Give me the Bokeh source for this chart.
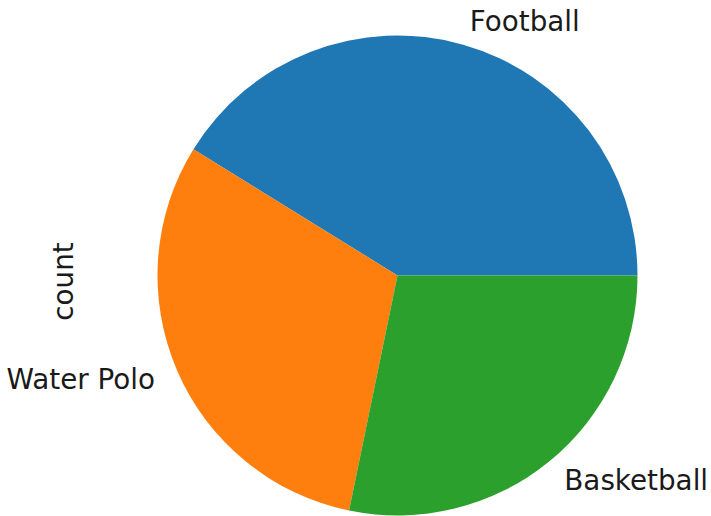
import numpy as np
from bokeh.plotting import figure
from bokeh.models import Range1d
from bokeh.core.properties import value
from bokeh.embed import file_html
from bokeh.resources import INLINE

categories = ["Football", "Water Polo", "Basketball"]
counts = [35, 26, 24]
colors = ["#1f77b4", "#ff7f0e", "#2ca02c"]
ylabel = "count"

W, H = 711, 516
cx, cy, r = 397, 241, 240
FONT = "DejaVu Sans"
FS = "27.8px"

total = float(sum(counts))
fr = np.array(counts) / total
ends = np.cumsum(fr) * 2 * np.pi
starts = ends - fr * 2 * np.pi
mids = (starts + ends) / 2

p = figure(width=W, height=H, x_range=Range1d(0, W), y_range=Range1d(0, H),
           output_backend="svg", toolbar_location=None, min_border=0)
p.axis.visible = False
p.grid.visible = False
p.outline_line_color = None
p.background_fill_color = "white"

p.wedge(x=[cx] * len(counts), y=[cy] * len(counts), radius=r,
        start_angle=list(starts), end_angle=list(ends),
        fill_color=colors, line_color=None)

for cat, m in zip(categories, mids):
    lx = cx + 1.1 * r * np.cos(m)
    ly = cy + 1.1 * r * np.sin(m)
    align = "left" if np.cos(m) > 0 else "right"
    p.text(x=[lx], y=[ly], text=[cat], text_font=value(FONT), text_font_size=FS,
           text_align=align, text_baseline="middle", text_color="#1a1a1a")

p.text(x=[63], y=[235], text=[ylabel], angle=np.pi / 2, text_font=value(FONT),
       text_font_size=FS, text_align="center", text_baseline="middle", text_color="#1a1a1a")

open("out.html", "w").write(file_html(p, INLINE))
